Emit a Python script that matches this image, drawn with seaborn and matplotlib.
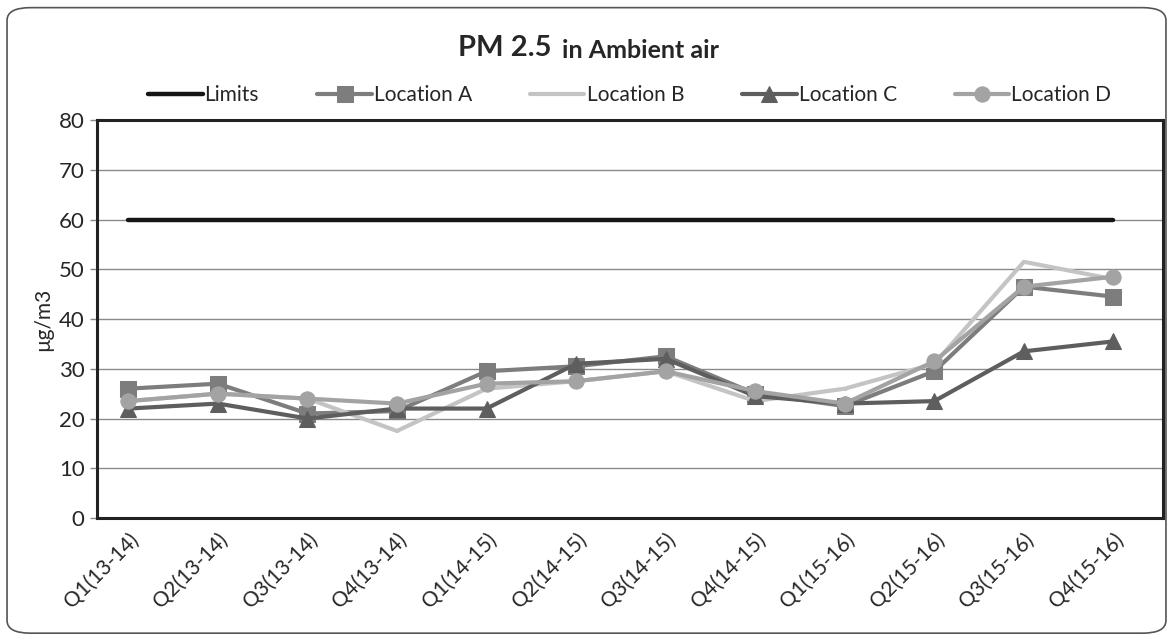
import matplotlib
matplotlib.use("Agg")
import matplotlib.pyplot as plt
import matplotlib.transforms as mtransforms
import seaborn as sns
import pandas as pd
from matplotlib.patches import FancyBboxPatch

categories = ["Q1(13-14)", "Q2(13-14)", "Q3(13-14)", "Q4(13-14)",
              "Q1(14-15)", "Q2(14-15)", "Q3(14-15)", "Q4(14-15)",
              "Q1(15-16)", "Q2(15-16)", "Q3(15-16)", "Q4(15-16)"]
limits = [60] * 12
loc_a = [26, 27, 21, 21.5, 29.5, 30.5, 32.5, 25, 22.5, 29.5, 46.5, 44.5]
loc_b = [23.5, 25, 24, 17.5, 26, 27.5, 29.5, 23.5, 26, 31, 51.5, 48]
loc_c = [22, 23, 20, 22, 22, 31, 32, 24.5, 23, 23.5, 33.5, 35.5]
loc_d = [23.5, 25, 24, 23, 27, 27.5, 29.5, 25.5, 23, 31.5, 46.5, 48.5]
y_ticks = [0, 10, 20, 30, 40, 50, 60, 70, 80]

sns.set_style("white")
plt.rcParams['font.family'] = ['Lato', 'DejaVu Sans']

fig = plt.figure(figsize=(11.73, 6.37), dpi=100)
ax = fig.add_axes([0.0827, 0.1868, 0.9085, 0.6248])

# outer chart border
border = FancyBboxPatch((0.006, 0.006), 0.988, 0.982, boxstyle="round,pad=0,rounding_size=0.02",
                        transform=fig.transFigure, fill=False, edgecolor="#555555", lw=1.2)
fig.patches.append(border)

series = [
    ("Limits", limits, "#151515", None, 7, 3.2),
    ("Location A", loc_a, "#7d7d7d", "s", 11, 3.0),
    ("Location B", loc_b, "#c4c4c4", ".", 3, 3.0),
    ("Location C", loc_c, "#5e5e5e", "^", 11, 3.0),
    ("Location D", loc_d, "#a3a3a3", "o", 11, 3.0),
]
x = list(range(len(categories)))
for name, vals, col, mk, ms, lw in series:
    df = pd.DataFrame({"x": x, "y": vals})
    sns.lineplot(data=df, x="x", y="y", ax=ax, color=col, lw=lw, marker=mk,
                 markersize=ms, markeredgecolor=col, label=name, sort=False)

ax.set_xlim(-0.35, 11.55)
ax.set_ylim(0, 80)
ax.set_yticks(y_ticks)
ax.set_yticklabels([str(t) for t in y_ticks], fontsize=16)
ax.set_xticks(x)
ax.set_xticklabels(categories, rotation=45, ha="right", rotation_mode="anchor", fontsize=15)
offset = mtransforms.ScaledTranslation(0.12, 0.0, fig.dpi_scale_trans)
for lbl in ax.get_xticklabels():
    lbl.set_transform(lbl.get_transform() + offset)
ax.yaxis.grid(True, color="#8a8a8a", lw=1.0)
ax.set_axisbelow(True)
ax.tick_params(axis="y", length=5, width=1, color="#888888", left=True, pad=4)
ax.tick_params(axis="x", length=0, pad=8)
for s in ax.spines.values():
    s.set_color("#222222")
    s.set_linewidth(2.2)
ax.set_xlabel("")
ax.set_ylabel("µg/m3", fontsize=15, labelpad=4)

leg = ax.legend(loc="lower center", bbox_to_anchor=(0.5, 1.0), ncol=5, frameon=False,
                fontsize=15, handlelength=2.6, handletextpad=0.1, columnspacing=2.8,
                borderaxespad=0.3)

fig.text(0.476, 0.925, "PM 2.5 ", fontsize=21, fontweight="bold", ha="right", va="center")
fig.text(0.479, 0.921, "in Ambient air", fontsize=18, fontweight="bold", ha="left", va="center")

fig.savefig("out.png", dpi=100)
